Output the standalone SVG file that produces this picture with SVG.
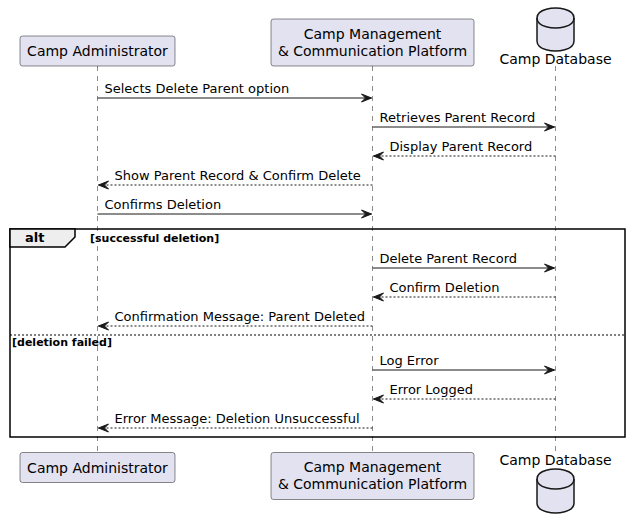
<svg xmlns="http://www.w3.org/2000/svg" width="630" height="530" viewBox="0 0 630 530">
<defs>
<style>
.part{fill:#E2E2F0;stroke:#181818;stroke-width:0.5}
.life{stroke:#181818;stroke-width:0.5;stroke-dasharray:5,5}
.pt{font-family:"DejaVu Sans",sans-serif;font-size:14px;fill:#000;text-anchor:middle}
.mt{font-family:"DejaVu Sans",sans-serif;font-size:13px;fill:#000}
.msg{stroke:#181818;stroke-width:1;fill:none}
.ret{stroke:#181818;stroke-width:1;fill:none;stroke-dasharray:2,2}
.head{fill:#181818;stroke:#181818;stroke-width:1}
.frame{fill:none;stroke:#000;stroke-width:1.5}
.gd{font-family:"DejaVu Sans",sans-serif;font-size:11px;font-weight:bold;fill:#000}
</style>
</defs>
<rect width="630" height="530" fill="#fff"/>
<g id="lifelines">
<line class="life" x1="97.5" y1="66" x2="97.5" y2="452"/>
<line class="life" x1="372.5" y1="66" x2="372.5" y2="452"/>
<line class="life" x1="555.5" y1="66" x2="555.5" y2="452"/>
</g>
<g id="p-admin">
<rect class="part" x="20" y="36" width="155" height="30" rx="2.5"/>
<text class="pt" x="97.5" y="55.5">Camp Administrator</text>
</g>
<g id="p-admin-bottom">
<rect class="part" x="20" y="452.5" width="155" height="30" rx="2.5"/>
<text class="pt" x="97.5" y="472.5">Camp Administrator</text>
</g>
<g id="p-platform">
<rect class="part" x="271" y="19" width="203" height="47" rx="2.5"/>
<text class="pt" x="372.5" y="38.5">Camp Management</text>
<text class="pt" x="372.5" y="55.5">&amp; Communication Platform</text>
</g>
<g id="p-platform-bottom">
<rect class="part" x="271" y="452.5" width="203" height="47" rx="2.5"/>
<text class="pt" x="372.5" y="472">Camp Management</text>
<text class="pt" x="372.5" y="489">&amp; Communication Platform</text>
</g>
<g id="db">
<path class="part" style="stroke-width:1.5" d="M537,18 C537,8 555.5,8 555.5,8 C555.5,8 574,8 574,18 L574,41 C574,51 555.5,51 555.5,51 C555.5,51 537,51 537,41 Z"/>
<path d="M537,18 C537,28 555.5,28 555.5,28 C555.5,28 574,28 574,18" fill="none" stroke="#181818" stroke-width="1.5"/>
<text class="pt" x="555.5" y="64">Camp Database</text>
</g>
<g id="db-bottom">
<text class="pt" x="555.5" y="465">Camp Database</text>
<path class="part" style="stroke-width:1.5" d="M537,479 C537,469 555.5,469 555.5,469 C555.5,469 574,469 574,479 L574,503 C574,513 555.5,513 555.5,513 C555.5,513 537,513 537,503 Z"/>
<path d="M537,479 C537,489 555.5,489 555.5,489 C555.5,489 574,489 574,479" fill="none" stroke="#181818" stroke-width="1.5"/>
</g>
<g id="alt-frame">
<rect class="frame" x="10" y="229" width="615" height="208"/>
<polygon points="10,229 75,229 75,237 65,247 10,247" fill="#EEEEEE" stroke="#000" stroke-width="1.5"/>
<text x="25" y="242" style="font-family:'DejaVu Sans',sans-serif;font-size:13px;font-weight:bold">alt</text>
<text class="gd" x="90" y="242">[successful deletion]</text>
<line x1="10" y1="335" x2="625" y2="335" stroke="#000" stroke-width="1" stroke-dasharray="2,2"/>
<text class="gd" x="12" y="346">[deletion failed]</text>
</g>
<g id="connectors">
<line class="msg" x1="97.5" y1="98" x2="371.5" y2="98"/>
<polygon class="head" points="361.5,94 371.5,98 361.5,102 365.5,98"/>
<text class="mt" x="104.5" y="93">Selects Delete Parent option</text>

<line class="msg" x1="372.5" y1="127" x2="554.5" y2="127"/>
<polygon class="head" points="544.5,123 554.5,127 544.5,131 548.5,127"/>
<text class="mt" x="379.5" y="122">Retrieves Parent Record</text>

<line class="ret" x1="373.5" y1="156" x2="555.5" y2="156"/>
<polygon class="head" points="383.5,152 373.5,156 383.5,160 379.5,156"/>
<text class="mt" x="389.5" y="151">Display Parent Record</text>

<line class="ret" x1="98.5" y1="185" x2="372.5" y2="185"/>
<polygon class="head" points="108.5,181 98.5,185 108.5,189 104.5,185"/>
<text class="mt" x="114.5" y="180">Show Parent Record &amp; Confirm Delete</text>

<line class="msg" x1="97.5" y1="214" x2="371.5" y2="214"/>
<polygon class="head" points="361.5,210 371.5,214 361.5,218 365.5,214"/>
<text class="mt" x="104.5" y="209">Confirms Deletion</text>

<line class="msg" x1="372.5" y1="268" x2="554.5" y2="268"/>
<polygon class="head" points="544.5,264 554.5,268 544.5,272 548.5,268"/>
<text class="mt" x="379.5" y="263">Delete Parent Record</text>

<line class="ret" x1="373.5" y1="297" x2="555.5" y2="297"/>
<polygon class="head" points="383.5,293 373.5,297 383.5,301 379.5,297"/>
<text class="mt" x="389.5" y="292">Confirm Deletion</text>

<line class="ret" x1="98.5" y1="326" x2="372.5" y2="326"/>
<polygon class="head" points="108.5,322 98.5,326 108.5,330 104.5,326"/>
<text class="mt" x="114.5" y="321">Confirmation Message: Parent Deleted</text>

<line class="msg" x1="372.5" y1="370" x2="554.5" y2="370"/>
<polygon class="head" points="544.5,366 554.5,370 544.5,374 548.5,370"/>
<text class="mt" x="379.5" y="365">Log Error</text>

<line class="ret" x1="373.5" y1="399" x2="555.5" y2="399"/>
<polygon class="head" points="383.5,395 373.5,399 383.5,403 379.5,399"/>
<text class="mt" x="389.5" y="394">Error Logged</text>

<line class="ret" x1="98.5" y1="428" x2="372.5" y2="428"/>
<polygon class="head" points="108.5,424 98.5,428 108.5,432 104.5,428"/>
<text class="mt" x="114.5" y="423">Error Message: Deletion Unsuccessful</text>
</g>
</svg>
